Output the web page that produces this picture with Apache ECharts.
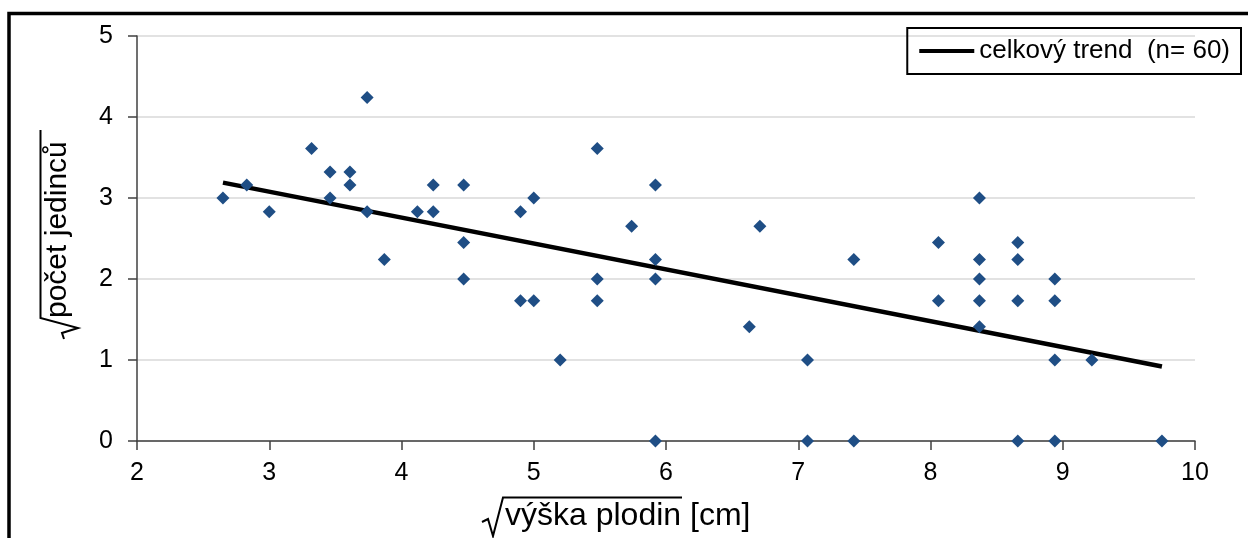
<!DOCTYPE html>
<html>
<head>
<meta charset="utf-8">
<script src="https://cdn.jsdelivr.net/npm/echarts@6/dist/echarts.min.js"></script>
<style>
html, body { margin: 0; padding: 0; background: #fff; }
#main { width: 1248px; height: 538px; }
</style>
</head>
<body>
<div id="main"></div>
<script>
// odmocnina výšky plodin (x) a odmocnina počtu jedinců (y)
var vyska = [2.65, 2.83, 3.00, 3.32, 3.46, 3.46, 3.61, 3.61, 3.74, 3.74,
	3.87, 4.12, 4.24, 4.24, 4.47, 4.47, 4.47, 4.90, 4.90, 5.00,
	5.00, 5.20, 5.48, 5.48, 5.48, 5.74, 5.92, 5.92, 5.92, 5.92,
	6.63, 6.71, 7.07, 7.07, 7.42, 7.42, 8.06, 8.06, 8.37, 8.37,
	8.37, 8.37, 8.37, 8.66, 8.66, 8.66, 8.66, 8.94, 8.94, 8.94,
	8.94, 9.22, 9.75];
var pocet = [3.00, 3.16, 2.83, 3.61, 3.32, 3.00, 3.32, 3.16, 4.24, 2.83,
	2.24, 2.83, 3.16, 2.83, 3.16, 2.45, 2.00, 2.83, 1.73, 3.00,
	1.73, 1.00, 3.61, 2.00, 1.73, 2.65, 3.16, 2.24, 2.00, 0.00,
	1.41, 2.65, 1.00, 0.00, 2.24, 0.00, 2.45, 1.73, 3.00, 2.24,
	2.00, 1.73, 1.41, 2.45, 2.24, 1.73, 0.00, 2.00, 1.73, 1.00,
	0.00, 1.00, 0.00];
// celkový trend - koncové body
var trendX = [2.65, 9.75];
var trendY = [3.19, 0.92];
var trendName = 'celkový trend  (n= 60)';

var font = 'Liberation Sans, Arial, sans-serif';

function $each(arr, fn) {
	for (var i = 0; i < arr.length; i++) fn(i, arr[i]);
}
var bodyData = [];
$each(vyska, function (i, v) {
	bodyData.push([v, pocet[i]]);
});
var trendData = [];
$each(trendX, function (i, v) {
	trendData.push([v, trendY[i]]);
});

var myChart = echarts.init(document.getElementById('main'));
var option = {
	animation: false,
	backgroundColor: '#fff',
	grid: {
		left: 137,
		right: 53,
		top: 36,
		bottom: 97
	},
	legend: {
		data: [trendName],
		icon: 'rect',
		right: 7,
		top: 28,
		padding: [10, 11, 10, 12],
		borderColor: '#000',
		borderWidth: 2,
		itemWidth: 55,
		itemHeight: 4,
		textStyle: {
			fontFamily: font,
			fontSize: 26,
			color: '#000'
		}
	},
	xAxis: {
		type: 'value',
		min: 2,
		max: 10,
		interval: 1,
		axisLine: { show: true, onZero: false, lineStyle: { color: '#404040', width: 1.5 } },
		axisTick: { show: true, inside: false, length: 9, lineStyle: { color: '#404040', width: 1.5 } },
		axisLabel: { fontFamily: font, fontSize: 25, color: '#000', margin: 20 },
		splitLine: { show: false }
	},
	yAxis: {
		type: 'value',
		min: 0,
		max: 5,
		interval: 1,
		axisLine: { show: true, lineStyle: { color: '#404040', width: 1.5 } },
		axisTick: { show: true, inside: false, length: 9, lineStyle: { color: '#404040', width: 1.5 } },
		axisLabel: { fontFamily: font, fontSize: 25, color: '#000', margin: 24 },
		splitLine: { show: true, lineStyle: { color: '#d9d9d9', width: 1.5 } }
	},
	graphic: [
		{
			type: 'rect',
			shape: { x: 9, y: 13.5, width: 1300, height: 700 },
			style: { fill: 'none', stroke: '#000', lineWidth: 3.5 },
			silent: true
		},
		// popisek osy x s odmocninou
		{
			type: 'text',
			x: 505,
			y: 516,
			style: {
				text: 'výška plodin [cm]',
				font: '32px ' + font,
				fill: '#000',
				textAlign: 'left',
				textVerticalAlign: 'middle'
			}
		},
		{
			type: 'polyline',
			shape: { points: [[482, 522], [488, 519], [493, 536], [503, 497.5], [682, 497.5]] },
			style: { stroke: '#000', lineWidth: 2, fill: 'none' }
		},
		// popisek osy y s odmocninou
		{
			type: 'text',
			x: 58,
			y: 318,
			rotation: Math.PI / 2,
			style: {
				text: 'počet jedinců',
				font: '30px ' + font,
				fill: '#000',
				textAlign: 'left',
				textVerticalAlign: 'middle'
			}
		},
		{
			type: 'polyline',
			shape: { points: [[64, 339], [62, 333], [78, 328], [40.5, 318], [40.5, 130]] },
			style: { stroke: '#000', lineWidth: 2, fill: 'none' }
		}
	],
	series: [
		{
			name: trendName,
			type: 'line',
			data: trendData,
			symbol: 'none',
			z: 2,
			lineStyle: { color: '#000', width: 4.5 },
			itemStyle: { color: '#000' }
		},
		{
			name: 'body',
			type: 'scatter',
			data: bodyData,
			symbol: 'diamond',
			symbolSize: 13,
			z: 3,
			itemStyle: { color: '#1f4e85', opacity: 1 }
		}
	]
};
myChart.setOption(option);
</script>
</body>
</html>
